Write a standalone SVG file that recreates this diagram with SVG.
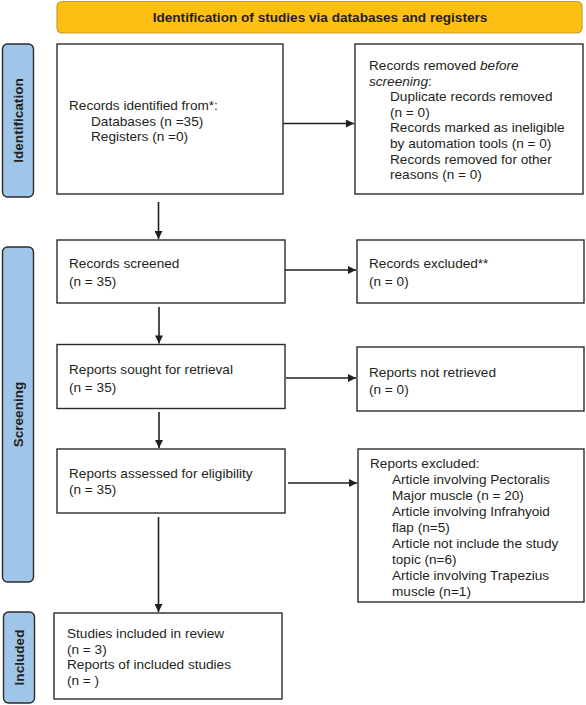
<svg xmlns="http://www.w3.org/2000/svg" width="586" height="705" viewBox="0 0 586 705">
<style>
  .box { fill: #ffffff; stroke: #2b2b2b; stroke-width: 1.4; }
  .side { fill: #9fc5e8; stroke: #2b2b2b; stroke-width: 1.4; }
  .banner { fill: #fdbf12; stroke: #c99a2e; stroke-width: 1.2; }
  .t { font-family: "Liberation Sans", Arial, sans-serif; font-size: 13.6px; fill: #231f20; }
  .b { font-family: "Liberation Sans", Arial, sans-serif; font-size: 13.6px; font-weight: bold; fill: #231f20; }
  .conn { stroke: #231f20; stroke-width: 1.6; fill: none; }
</style>
<defs>
  <marker id="arr" viewBox="0 0 10 10" refX="10" refY="5" markerWidth="9" markerHeight="8" markerUnits="userSpaceOnUse" orient="auto">
    <path d="M0,0 L10,5 L0,10 Z" fill="#231f20"/>
  </marker>
</defs>

<g id="banner">
  <rect class="banner" x="57" y="1.5" width="525" height="31.5" rx="5"/>
  <text class="b" x="320" y="21.5" text-anchor="middle">Identification of studies via databases and registers</text>
</g>

<g id="label-identification">
  <rect class="side" x="2.5" y="44" width="31" height="153" rx="5"/>
  <text class="b" transform="translate(23,120.5) rotate(-90)" text-anchor="middle">Identification</text>
</g>
<g id="label-screening">
  <rect class="side" x="2.5" y="247" width="31" height="335" rx="5"/>
  <text class="b" transform="translate(23,414.5) rotate(-90)" text-anchor="middle">Screening</text>
</g>
<g id="label-included">
  <rect class="side" x="3.5" y="612" width="31" height="91" rx="5"/>
  <text class="b" transform="translate(24,657.5) rotate(-90)" text-anchor="middle">Included</text>
</g>

<g id="records-identified">
  <rect class="box" x="57" y="44" width="226" height="150"/>
  <text class="t" x="69" y="110">Records identified from*:</text>
  <text class="t" x="91" y="126">Databases (n =35)</text>
  <text class="t" x="91" y="141">Registers (n =0)</text>
</g>

<g id="records-removed">
  <rect class="box" x="355" y="44" width="228" height="150"/>
  <text class="t" x="369" y="70">Records removed <tspan font-style="italic">before</tspan></text>
  <text class="t" x="369" y="85.6"><tspan font-style="italic">screening</tspan>:</text>
  <text class="t" x="390" y="101.2">Duplicate records removed</text>
  <text class="t" x="390" y="116.8">(n = 0)</text>
  <text class="t" x="390" y="132.4">Records marked as ineligible</text>
  <text class="t" x="390" y="148">by automation tools (n = 0)</text>
  <text class="t" x="390" y="163.6">Records removed for other</text>
  <text class="t" x="390" y="179.2">reasons (n = 0)</text>
</g>

<g id="records-screened">
  <rect class="box" x="57" y="240" width="228" height="63"/>
  <text class="t" x="69" y="268">Records screened</text>
  <text class="t" x="69" y="286">(n = 35)</text>
</g>

<g id="records-excluded">
  <rect class="box" x="357" y="240" width="227" height="63"/>
  <text class="t" x="369" y="268">Records excluded**</text>
  <text class="t" x="369" y="286">(n = 0)</text>
</g>

<g id="reports-sought">
  <rect class="box" x="57" y="344.5" width="228" height="64"/>
  <text class="t" x="69" y="374">Reports sought for retrieval</text>
  <text class="t" x="69" y="392">(n = 35)</text>
</g>

<g id="reports-not-retrieved">
  <rect class="box" x="357" y="347" width="227" height="64"/>
  <text class="t" x="369" y="377">Reports not retrieved</text>
  <text class="t" x="369" y="394">(n = 0)</text>
</g>

<g id="reports-assessed">
  <rect class="box" x="57" y="449" width="228" height="64"/>
  <text class="t" x="69" y="478">Reports assessed for eligibility</text>
  <text class="t" x="69" y="494">(n = 35)</text>
</g>

<g id="reports-excluded">
  <rect class="box" x="358" y="449" width="226" height="153"/>
  <text class="t" x="370" y="468">Reports excluded:</text>
  <text class="t" x="392" y="484">Article involving Pectoralis</text>
  <text class="t" x="392" y="500">Major muscle (n = 20)</text>
  <text class="t" x="392" y="516">Article involving Infrahyoid</text>
  <text class="t" x="392" y="532">flap (n=5)</text>
  <text class="t" x="392" y="548">Article not include the study</text>
  <text class="t" x="392" y="564">topic (n=6)</text>
  <text class="t" x="392" y="580">Article involving Trapezius</text>
  <text class="t" x="392" y="596">muscle (n=1)</text>
</g>

<g id="studies-included">
  <rect class="box" x="54" y="613" width="228" height="86"/>
  <text class="t" x="67" y="638">Studies included in review</text>
  <text class="t" x="67" y="654">(n = 3)</text>
  <text class="t" x="67" y="669">Reports of included studies</text>
  <text class="t" x="67" y="685">(n = )</text>
</g>

<g id="connectors">
  <line class="conn" x1="283" y1="123.5" x2="354" y2="123.5" marker-end="url(#arr)"/>
  <line class="conn" x1="158.5" y1="202" x2="158.5" y2="239" marker-end="url(#arr)"/>
  <line class="conn" x1="285" y1="270" x2="356" y2="270" marker-end="url(#arr)"/>
  <line class="conn" x1="159" y1="307" x2="159" y2="343.5" marker-end="url(#arr)"/>
  <line class="conn" x1="286" y1="378" x2="356" y2="378" marker-end="url(#arr)"/>
  <line class="conn" x1="159" y1="412" x2="159" y2="448" marker-end="url(#arr)"/>
  <line class="conn" x1="288" y1="483" x2="357" y2="483" marker-end="url(#arr)"/>
  <line class="conn" x1="158.5" y1="517" x2="158.5" y2="612" marker-end="url(#arr)"/>
</g>
</svg>
